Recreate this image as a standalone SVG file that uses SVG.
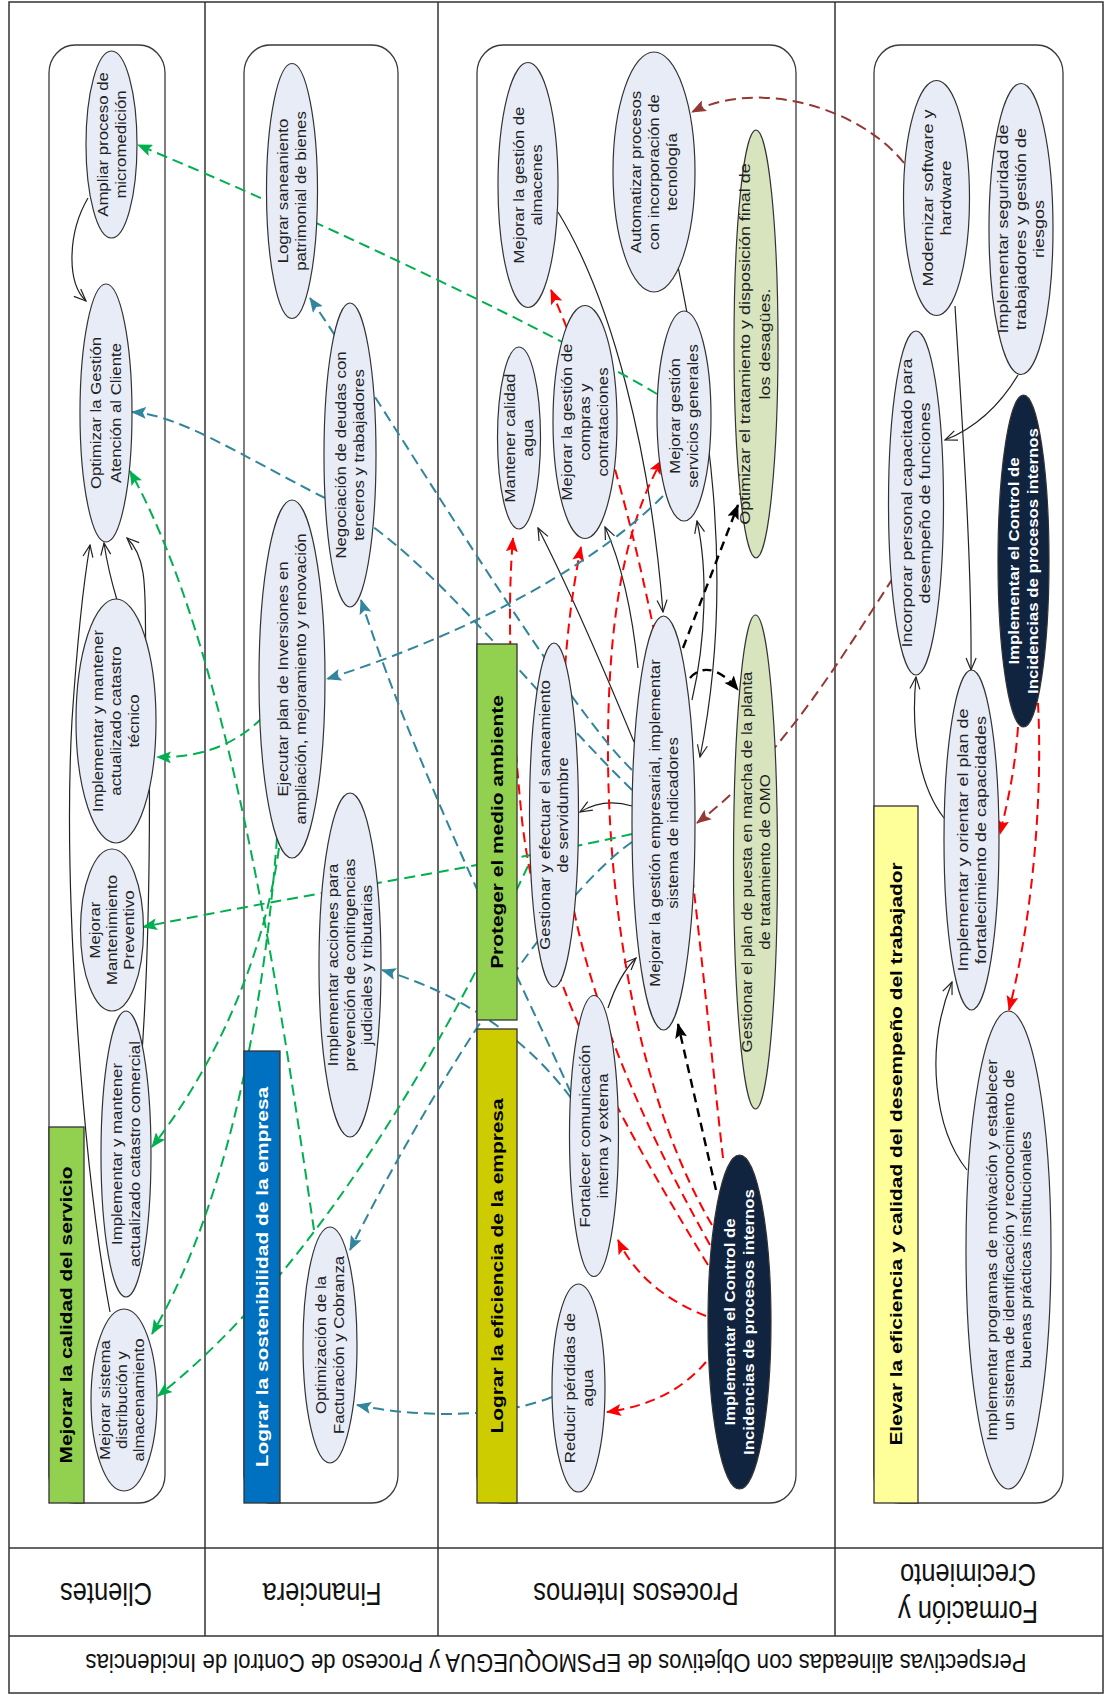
<svg xmlns="http://www.w3.org/2000/svg" width="1106" height="1695" viewBox="0 0 1106 1695">
<defs>
<style>
.frame{fill:none;stroke:#333;stroke-width:1.5}
.lane{fill:#fff;stroke:#3a3a3a;stroke-width:1.3}
.band{stroke:#333;stroke-width:1.3}
.nd{fill:#e7ecf7;stroke:#333;stroke-width:1.2}
.ndg{fill:#d7e4bd;stroke:#333;stroke-width:1.2}
.ndk{fill:#10233f;stroke:#333;stroke-width:1.2}
.t{font-family:"Liberation Sans",Arial,sans-serif;font-size:14px;fill:#222;text-anchor:middle;dominant-baseline:central}
.t15{font-size:15px}
.tw{font-family:"Liberation Sans",Arial,sans-serif;font-size:14px;font-weight:bold;fill:#fff;text-anchor:middle;dominant-baseline:central}
.bt{font-family:"Liberation Sans",Arial,sans-serif;font-size:17.4px;font-weight:bold;fill:#000;text-anchor:middle;dominant-baseline:central}
.lab{font-family:"Liberation Sans",Arial,sans-serif;font-size:25.5px;fill:#111;text-anchor:middle;dominant-baseline:central}
.ttl{font-family:"Liberation Sans",Arial,sans-serif;font-size:22px;fill:#111;text-anchor:middle;dominant-baseline:central}
.k{fill:none;stroke:#222;stroke-width:1.2;marker-end:url(#mO)}
.kd{fill:none;stroke:#000;stroke-width:2.4;stroke-dasharray:9 6;marker-end:url(#mK)}
.rd{fill:none;stroke:#ff0000;stroke-width:2;stroke-dasharray:10 6;marker-end:url(#mR)}
.gd{fill:none;stroke:#00b050;stroke-width:2;stroke-dasharray:11 6;marker-end:url(#mG)}
.td{fill:none;stroke:#31859c;stroke-width:2;stroke-dasharray:11 6;marker-end:url(#mT)}
.bd{fill:none;stroke:#953735;stroke-width:2;stroke-dasharray:11 6;marker-end:url(#mB)}
</style>
<marker id="mO" markerWidth="14" markerHeight="12" refX="13" refY="6" orient="auto" markerUnits="userSpaceOnUse"><path d="M1,1 L13,6 L1,11" fill="none" stroke="#222" stroke-width="1.2"/></marker>
<marker id="mK" markerWidth="15" markerHeight="12" refX="14" refY="6" orient="auto" markerUnits="userSpaceOnUse"><path d="M0,0 L15,6 L0,12 L3,6 z" fill="#000"/></marker>
<marker id="mR" markerWidth="15" markerHeight="12" refX="14" refY="6" orient="auto" markerUnits="userSpaceOnUse"><path d="M0,0 L15,6 L0,12 L3,6 z" fill="#ff0000"/></marker>
<marker id="mG" markerWidth="15" markerHeight="12" refX="14" refY="6" orient="auto" markerUnits="userSpaceOnUse"><path d="M0,0 L15,6 L0,12 L3,6 z" fill="#00b050"/></marker>
<marker id="mT" markerWidth="15" markerHeight="12" refX="14" refY="6" orient="auto" markerUnits="userSpaceOnUse"><path d="M0,0 L15,6 L0,12 L3,6 z" fill="#31859c"/></marker>
<marker id="mB" markerWidth="15" markerHeight="12" refX="14" refY="6" orient="auto" markerUnits="userSpaceOnUse"><path d="M0,0 L15,6 L0,12 L3,6 z" fill="#953735"/></marker>
</defs>
<rect width="1106" height="1695" fill="#fff"/>
<g id="frame">
<rect class="frame" x="9" y="2" width="1094" height="1691"/>
<line class="frame" x1="205" y1="2" x2="205" y2="1636"/>
<line class="frame" x1="438" y1="2" x2="438" y2="1636"/>
<line class="frame" x1="835" y1="2" x2="835" y2="1636"/>
<line class="frame" x1="9" y1="1548" x2="1103" y2="1548"/>
<line class="frame" x1="9" y1="1636" x2="1103" y2="1636"/>
</g>
<g id="lanes">
<rect id="lane-clientes" class="lane" x="49" y="45" width="116" height="1458" rx="26" ry="28"/>
<rect id="lane-financiera" class="lane" x="244" y="45" width="154" height="1458" rx="26" ry="28"/>
<rect id="lane-procesos" class="lane" x="477" y="45" width="319" height="1458" rx="26" ry="28"/>
<rect id="lane-formacion" class="lane" x="874" y="45" width="189" height="1458" rx="26" ry="28"/>
</g>
<g id="connectors">
<path class="k" d="M88,198 C68,232 66,282 86,301"/>
<path class="k" d="M117,600 Q108,570 104,543"/>
<path class="k" d="M141,1066 C150,950 152,760 146,660 C144,600 150,560 127,538"/>
<path class="k" d="M110,1312 C85,1180 62,900 72,720 C78,630 84,580 90,545"/>
<path class="k" d="M558,212 C612,300 650,450 663,612"/>
<path class="k" d="M676,256 C700,380 740,560 700,757"/>
<path class="k" d="M692,700 C706,640 708,570 697,521"/>
<path class="k" d="M638,668 C632,610 620,560 605,527"/>
<path class="k" d="M634,742 C600,660 570,590 538,528"/>
<path class="k" d="M632,806 C612,800 595,803 580,812"/>
<path class="k" d="M608,1008 C614,990 622,972 636,958"/>
<path class="k" d="M955,306 C962,420 972,560 971,670"/>
<path class="k" d="M1018,375 C1000,405 975,428 945,440"/>
<path class="k" d="M944,818 C922,790 910,740 916,677"/>
<path class="k" d="M967,1170 C935,1130 924,1050 952,982"/>
<path class="kd" d="M716,1190 L678,1024"/>
<path class="kd" d="M683,648 L738,505"/>
<path class="kd" d="M690,678 C702,664 720,668 738,690"/>
<path class="rd" d="M706,1316 C670,1302 636,1278 618,1240"/>
<path class="rd" d="M706,1362 C682,1390 650,1406 607,1412"/>
<path class="rd" d="M708,1265 C620,1120 540,980 522,820 C512,720 506,620 513,538"/>
<path class="rd" d="M710,1245 C640,1120 590,1000 572,900 C556,780 560,650 581,547"/>
<path class="rd" d="M712,1225 C650,1120 610,950 608,760 C607,620 625,525 662,460"/>
<path class="rd" d="M723,1158 C705,1000 690,820 662,670 C640,560 612,430 551,290"/>
<path class="rd" d="M1018,727 C1015,770 1008,800 1000,834"/>
<path class="rd" d="M1038,703 C1043,800 1032,920 1009,1010"/>
<path class="td" d="M632,770 C560,700 400,430 310,298"/>
<path class="td" d="M632,790 C520,680 420,540 323,497 C240,455 180,415 132,412"/>
<path class="td" d="M663,496 C600,560 480,630 327,679"/>
<path class="td" d="M571,1093 C520,980 420,780 361,600"/>
<path class="td" d="M571,1098 C520,1030 450,990 382,970"/>
<path class="td" d="M632,842 C550,900 430,1090 350,1250"/>
<path class="td" d="M552,1397 C500,1418 420,1418 357,1405"/>
<path class="bd" d="M904,163 C860,108 760,78 692,112"/>
<path class="bd" d="M893,578 C840,660 780,760 697,823"/>
<path class="gd" d="M657,394 C560,336 330,225 138,145"/>
<path class="gd" d="M262,718 C235,745 200,758 157,757"/>
<path class="gd" d="M314,1230 C280,1000 230,650 130,471"/>
<path class="gd" d="M632,834 C520,860 300,895 143,927"/>
<path class="gd" d="M277,838 C265,1000 230,1200 152,1334"/>
<path class="gd" d="M279,848 C265,950 220,1060 152,1147"/>
<path class="gd" d="M528,866 C460,1010 330,1260 158,1396"/>
</g>
<g id="bands">
<g id="band-calidad"><rect class="band" x="49" y="1127" width="35" height="376" fill="#92d050"/><text class="bt" transform="translate(66.5 1315) scale(1 1.2) rotate(-90)">Mejorar la calidad del servicio</text></g>
<g id="band-sostenibilidad"><rect class="band" x="244" y="1051" width="36" height="452" fill="#0070c0"/><text class="bt" style="fill:#fff" transform="translate(262 1277) scale(1 1.2) rotate(-90)">Lograr la sostenibilidad de la empresa</text></g>
<g id="band-ambiente"><rect class="band" x="477" y="644" width="40" height="376" fill="#92d050"/><text class="bt" transform="translate(497 832) scale(1 1.2) rotate(-90)">Proteger el medio ambiente</text></g>
<g id="band-eficiencia"><rect class="band" x="477" y="1029" width="40" height="474" fill="#cccc00"/><text class="bt" transform="translate(497 1266) scale(1 1.2) rotate(-90)">Lograr la eficiencia de la empresa</text></g>
<g id="band-trabajador"><rect class="band" x="874" y="806" width="44" height="697" fill="#ffff99"/><text class="bt" transform="translate(896 1154) scale(1 1.2) rotate(-90)">Elevar la eficiencia y calidad del desempeño del trabajador</text></g>
</g>
<g id="nodes">
<g id="n-micromedicion"><ellipse class="nd" cx="111.5" cy="144.5" rx="25.5" ry="93.5"/><text class="t" transform="translate(111.5 144.5) scale(1 1.2) rotate(-90)"><tspan x="0" y="-9">Ampliar proceso de</tspan><tspan x="0" y="9">micromedición</tspan></text></g>
<g id="n-atencion"><ellipse class="nd" cx="106" cy="413" rx="26" ry="129"/><text class="t" transform="translate(106 413) scale(1 1.2) rotate(-90)"><tspan x="0" y="-10">Optimizar la Gestión</tspan><tspan x="0" y="10">Atención al Cliente</tspan></text></g>
<g id="n-catastro-tecnico"><ellipse class="nd" cx="116" cy="721" rx="40" ry="122"/><text class="t" transform="translate(116 721) scale(1 1.2) rotate(-90)"><tspan x="0" y="-18">Implementar y mantener</tspan><tspan x="0" y="0">actualizado catastro</tspan><tspan x="0" y="18">técnico</tspan></text></g>
<g id="n-mantenimiento"><ellipse class="nd" cx="112" cy="930" rx="31.5" ry="81"/><text class="t" transform="translate(112 930) scale(1 1.2) rotate(-90)"><tspan x="0" y="-17">Mejorar</tspan><tspan x="0" y="0">Mantenimiento</tspan><tspan x="0" y="17">Preventivo</tspan></text></g>
<g id="n-catastro-comercial"><ellipse class="nd" cx="126" cy="1154" rx="25" ry="143"/><text class="t" transform="translate(126 1154) scale(1 1.2) rotate(-90)"><tspan x="0" y="-9">Implementar y mantener</tspan><tspan x="0" y="9">actualizado catastro comercial</tspan></text></g>
<g id="n-distribucion"><ellipse class="nd" cx="124" cy="1400" rx="33" ry="91"/><text class="t" transform="translate(122 1400) scale(1 1.2) rotate(-90)"><tspan x="0" y="-17">Mejorar sistema</tspan><tspan x="0" y="0">distribución y</tspan><tspan x="0" y="17">almacenamiento</tspan></text></g>
<g id="n-saneamiento-bienes"><ellipse class="nd" cx="292" cy="191" rx="25.5" ry="127.5"/><text class="t" transform="translate(292 191) scale(1 1.2) rotate(-90)"><tspan x="0" y="-9">Lograr saneaniento</tspan><tspan x="0" y="9">patrimonial de bienes</tspan></text></g>
<g id="n-deudas"><ellipse class="nd" cx="350" cy="455" rx="26" ry="152"/><text class="t" transform="translate(350 455) scale(1 1.2) rotate(-90)"><tspan x="0" y="-9">Negociación de deudas con</tspan><tspan x="0" y="9">terceros y trabajadores</tspan></text></g>
<g id="n-inversiones"><ellipse class="nd" cx="292" cy="679" rx="33" ry="179"/><text class="t" transform="translate(292 679) scale(1 1.2) rotate(-90)"><tspan x="0" y="-9">Ejecutar plan de Inversiones en</tspan><tspan x="0" y="9">ampliación, mejoramiento y renovación</tspan></text></g>
<g id="n-contingencias"><ellipse class="nd" cx="350" cy="965" rx="31" ry="172"/><text class="t" transform="translate(350 965) scale(1 1.2) rotate(-90)"><tspan x="0" y="-17">Implementar acciones para</tspan><tspan x="0" y="0">prevención de contingencias</tspan><tspan x="0" y="17">judiciales y tributarias</tspan></text></g>
<g id="n-facturacion"><ellipse class="nd" cx="330" cy="1345" rx="27" ry="118"/><text class="t" transform="translate(330 1345) scale(1 1.2) rotate(-90)"><tspan x="0" y="-9">Optimización de la</tspan><tspan x="0" y="9">Facturación y Cobranza</tspan></text></g>
<g id="n-almacenes"><ellipse class="nd" cx="528" cy="185" rx="30" ry="122.5"/><text class="t" transform="translate(528 185) scale(1 1.2) rotate(-90)"><tspan x="0" y="-9">Mejorar la gestión de</tspan><tspan x="0" y="9">almacenes</tspan></text></g>
<g id="n-automatizar"><ellipse class="nd" cx="654" cy="172" rx="41" ry="120"/><text class="t" transform="translate(654 172) scale(1 1.2) rotate(-90)"><tspan x="0" y="-18">Automatizar procesos</tspan><tspan x="0" y="0">con incorporación de</tspan><tspan x="0" y="18">tecnología</tspan></text></g>
<g id="n-calidad-agua"><ellipse class="nd" cx="519" cy="438" rx="21.5" ry="91"/><text class="t" transform="translate(519 438) scale(1 1.2) rotate(-90)"><tspan x="0" y="-9">Mantener calidad</tspan><tspan x="0" y="9">agua</tspan></text></g>
<g id="n-compras"><ellipse class="nd" cx="585" cy="422" rx="32" ry="116.5"/><text class="t" transform="translate(585 422) scale(1 1.2) rotate(-90)"><tspan x="0" y="-18">Mejorar la gestión de</tspan><tspan x="0" y="0">compras y</tspan><tspan x="0" y="18">contrataciones</tspan></text></g>
<g id="n-servicios"><ellipse class="nd" cx="684" cy="416" rx="27" ry="105"/><text class="t" transform="translate(684 416) scale(1 1.2) rotate(-90)"><tspan x="0" y="-9">Mejorar gestión</tspan><tspan x="0" y="9">servicios generales</tspan></text></g>
<g id="n-desagues"><ellipse class="ndg" cx="756" cy="344" rx="22" ry="214"/><text class="t t15" transform="translate(755 344) scale(1 1.2) rotate(-90)"><tspan x="0" y="-10">Optimizar el tratamiento y disposición final de</tspan><tspan x="0" y="10">los desagües.</tspan></text></g>
<g id="n-servidumbre"><ellipse class="nd" cx="554" cy="815" rx="24.5" ry="172"/><text class="t" transform="translate(554 815) scale(1 1.2) rotate(-90)"><tspan x="0" y="-9">Gestionar y efectuar el saneamiento</tspan><tspan x="0" y="9">de servidumbre</tspan></text></g>
<g id="n-indicadores"><ellipse class="nd" cx="663.5" cy="823" rx="31.5" ry="207"/><text class="t" transform="translate(663.5 823) scale(1 1.2) rotate(-90)"><tspan x="0" y="-9">Mejorar la gestión empresarial, implementar</tspan><tspan x="0" y="9">sistema de indicadores</tspan></text></g>
<g id="n-planta-omo"><ellipse class="ndg" cx="755.5" cy="862" rx="22" ry="247"/><text class="t" transform="translate(755.5 862) scale(1 1.2) rotate(-90)"><tspan x="0" y="-9">Gestionar el plan de puesta en marcha de la planta</tspan><tspan x="0" y="9">de tratamiento de OMO</tspan></text></g>
<g id="n-comunicacion"><ellipse class="nd" cx="594" cy="1136" rx="24.5" ry="140.5"/><text class="t" transform="translate(594 1136) scale(1 1.2) rotate(-90)"><tspan x="0" y="-9">Fortalecer comunicación</tspan><tspan x="0" y="9">interna y externa</tspan></text></g>
<g id="n-perdidas"><ellipse class="nd" cx="578.5" cy="1388" rx="26.5" ry="104"/><text class="t" transform="translate(578.5 1388) scale(1 1.2) rotate(-90)"><tspan x="0" y="-9">Reducir pérdidas de</tspan><tspan x="0" y="9">agua</tspan></text></g>
<g id="n-control-procesos"><ellipse class="ndk" cx="739.5" cy="1322" rx="31.5" ry="167"/><text class="tw" transform="translate(739.5 1322) scale(1 1.2) rotate(-90)"><tspan x="0" y="-9.5">Implementar el Control de</tspan><tspan x="0" y="9.5">Incidencias de procesos internos</tspan></text></g>
<g id="n-software"><ellipse class="nd" cx="936.5" cy="198" rx="33" ry="117.5"/><text class="t t15" transform="translate(936.5 198) scale(1 1.2) rotate(-90)"><tspan x="0" y="-9">Modernizar software y</tspan><tspan x="0" y="9">hardware</tspan></text></g>
<g id="n-seguridad"><ellipse class="nd" cx="1021" cy="229" rx="32" ry="145.5"/><text class="t t15" transform="translate(1021 229) scale(1 1.2) rotate(-90)"><tspan x="0" y="-18">Implementar seguridad de</tspan><tspan x="0" y="0">trabajadores y gestión de</tspan><tspan x="0" y="18">riesgos</tspan></text></g>
<g id="n-personal"><ellipse class="nd" cx="916" cy="503" rx="27.5" ry="172"/><text class="t t15" transform="translate(916 503) scale(1 1.2) rotate(-90)"><tspan x="0" y="-9">Incorporar personal capacitado para</tspan><tspan x="0" y="9">desempeño de funciones</tspan></text></g>
<g id="n-control-formacion"><ellipse class="ndk" cx="1023.5" cy="561" rx="25.5" ry="166"/><text class="tw" transform="translate(1023.5 561) scale(1 1.2) rotate(-90)"><tspan x="0" y="-9.5">Implementar el Control de</tspan><tspan x="0" y="9.5">Incidencias de procesos internos</tspan></text></g>
<g id="n-capacidades"><ellipse class="nd" cx="971.5" cy="840" rx="27.5" ry="170"/><text class="t t15" transform="translate(971.5 840) scale(1 1.2) rotate(-90)"><tspan x="0" y="-9">Implementar y orientar el plan de</tspan><tspan x="0" y="9">fortalecimiento de capacidades</tspan></text></g>
<g id="n-motivacion"><ellipse class="nd" cx="1008.5" cy="1250" rx="42.5" ry="239"/><text class="t" transform="translate(1008.5 1250) scale(1 1.2) rotate(-90)"><tspan x="0" y="-17">Implementar programas de motivación y establecer</tspan><tspan x="0" y="0">un sistema de identificación y reconocimiento de</tspan><tspan x="0" y="17">buenas prácticas institucionales</tspan></text></g>
</g>
<g id="labels">
<text class="lab" transform="translate(106 1593) scale(1 1.2) rotate(180)">Clientes</text>
<text class="lab" transform="translate(322 1593) scale(1 1.2) rotate(180)">Financiera</text>
<text class="lab" transform="translate(636 1593) scale(1 1.2) rotate(180)">Procesos Internos</text>
<text class="lab" transform="translate(968 1593) scale(1 1.2) rotate(180)"><tspan x="0" y="-15.5">Formación y</tspan><tspan x="0" y="15.5">Crecimiento</tspan></text>
<text class="ttl" transform="translate(556 1663) scale(1 1.2) rotate(180)" textLength="941" lengthAdjust="spacingAndGlyphs">Perspectivas alineadas con Objetivos de EPSMOQUEGUA y Proceso de Control de Incidencias</text>
</g>
</svg>
